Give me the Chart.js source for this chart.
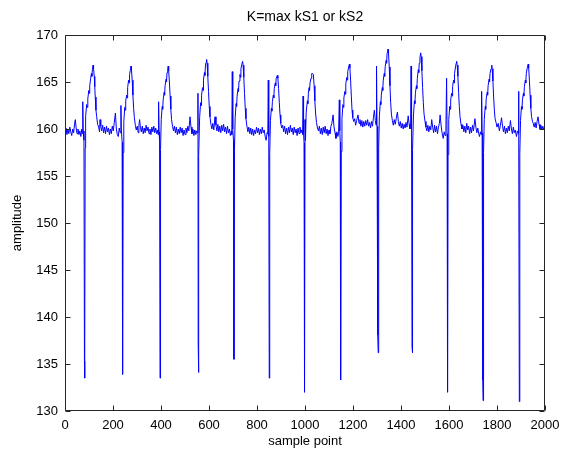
<!DOCTYPE html>
<html>
<head>
<meta charset="utf-8">
<script src="https://cdn.jsdelivr.net/npm/chart.js@4.4.1/dist/chart.umd.min.js"></script>
<style>
  html, body { margin: 0; padding: 0; background: #fff; }
</style>
</head>
<body>
<canvas id="chart" width="568" height="451"></canvas>
<script>
const titleText = "K=max kS1 or kS2";
const xLabel = "sample point";
const yLabel = "amplitude";
const xTicks = [0, 200, 400, 600, 800, 1000, 1200, 1400, 1600, 1800, 2000];
const yTicks = [130, 135, 140, 145, 150, 155, 160, 165, 170];

// [sample, amplitude], one beat per block
const lead = [[0,159.6],[4,160.1],[8,159.4],[12,160.0],[16,159.5],[20,160.2],[24,159.7],[28,159.3],[32,160.0],[36,159.6],[40,160.6],[43,161.0],[46,160.2],[50,159.5],[54,160.0],[58,159.4],[62,159.8],[66,159.2],[70,160.0]];
const beat01 = [[72,159.5],[74,162.9],[76,159.8],[79,158.8],[81,135.3],[82,133.5],[84,158.0],[86,161.3],[90,162.6],[93,162.3],[95,163.2],[99,164.1],[101,163.8],[103,164.6],[107,165.4],[110,165.9],[112,165.6],[114,166.3],[117,166.8],[119,166.4],[122,165.6],[124,164.5],[126,163.4],[129,162.0],[132,161.3],[136,160.5],[140,160.2],[144,159.7],[146,161.0],[149,160.3],[153,159.8],[157,160.4],[161,159.6],[165,160.2],[169,159.5],[173,160.3],[177,159.7],[181,160.1],[185,159.4],[189,160.0],[193,159.5],[197,160.3],[201,159.8],[205,160.6],[210,161.7],[214,160.0],[218,159.4],[222,159.2],[226,160.1]];
const beat02 = [[230,159.6],[233,162.5],[235,159.9],[238,158.6],[240,133.9],[242,157.5],[245,160.8],[249,162.3],[251,162.0],[253,163.0],[257,163.6],[259,163.3],[261,164.4],[265,165.2],[267,164.9],[269,165.8],[272,166.2],[275,166.7],[277,166.3],[280,165.2],[283,163.6],[286,162.2],[289,161.2],[293,160.4],[297,159.9],[301,160.3],[305,159.6],[308,160.4],[311,161.0],[314,160.2],[318,159.7],[322,160.3],[326,159.5],[330,160.1],[334,159.6],[338,160.4],[342,159.8],[346,160.2],[350,159.5],[354,160.0],[358,159.4],[362,160.2],[366,159.7],[370,160.3],[374,159.6],[378,160.1],[382,159.5],[386,159.9]];
const beat03 = [[388,159.4],[390,162.9],[392,159.7],[394,158.7],[396,133.5],[398,157.8],[401,161.0],[405,162.4],[407,162.1],[409,163.1],[413,163.9],[415,163.6],[417,164.6],[421,165.3],[423,165.0],[425,166.0],[428,166.4],[430,166.7],[432,166.2],[435,165.0],[438,163.5],[441,162.1],[444,161.0],[448,160.3],[452,159.8],[456,160.3],[460,159.6],[464,160.2],[468,159.4],[472,160.0],[476,159.5],[480,160.2],[484,159.6],[488,160.1],[492,159.3],[496,159.9],[500,159.4],[504,160.1],[508,159.6],[512,160.3],[516,159.8],[521,161.3],[525,160.2],[529,159.5],[533,160.0],[537,159.3],[541,159.9],[545,159.4],[549,159.8]];
const beat04 = [[552,159.6],[554,163.8],[555,137.0],[556,134.1],[558,157.2],[561,161.2],[565,162.8],[567,162.5],[569,163.6],[573,164.4],[575,164.1],[577,165.2],[581,166.0],[583,165.7],[585,166.7],[588,167.1],[590,167.4],[592,167.0],[595,165.6],[598,164.0],[601,162.4],[604,161.3],[608,160.5],[612,160.0],[616,160.6],[620,159.9],[625,161.3],[629,160.4],[633,159.8],[637,160.5],[641,159.7],[645,160.3],[649,159.6],[653,160.4],[657,159.8],[661,160.5],[665,159.7],[669,160.2],[673,159.5],[677,160.3],[681,159.6],[685,160.0],[689,159.3],[693,159.8]];
const beat05 = [[695,159.4],[697,166.1],[699,160.0],[702,158.8],[704,135.5],[706,157.6],[709,161.2],[713,162.7],[715,162.4],[717,163.5],[721,164.3],[723,164.0],[725,165.1],[729,165.8],[731,165.5],[733,166.4],[737,166.9],[740,167.2],[742,166.8],[745,165.5],[748,163.8],[751,162.2],[754,161.1],[758,160.3],[762,159.7],[766,160.2],[770,159.5],[774,160.1],[778,159.4],[782,160.0],[786,159.3],[790,159.9],[794,159.5],[798,160.2],[802,159.6],[806,160.1],[810,159.4],[814,160.0],[818,159.5],[822,160.2],[826,159.6],[830,159.9],[834,159.2],[838,158.8],[842,159.6]];
const beat06 = [[845,159.5],[847,165.2],[849,159.2],[851,133.5],[853,157.4],[856,160.9],[860,162.2],[862,161.9],[864,162.9],[868,163.6],[870,163.3],[872,164.3],[876,164.9],[878,164.6],[880,165.4],[885,165.7],[887,165.4],[890,164.3],[893,162.8],[896,161.5],[899,160.6],[903,160.1],[907,160.4],[911,159.7],[915,160.3],[919,159.5],[923,160.1],[927,159.4],[931,160.2],[935,159.6],[939,160.4],[943,159.7],[947,160.1],[951,159.4],[955,160.2],[959,159.6],[963,160.0],[967,159.3],[971,160.1],[975,159.5],[979,160.2],[983,159.6],[987,159.9]];
const beat07 = [[990,159.4],[992,163.5],[994,159.6],[996,158.5],[998,132.0],[1000,161.0],[1002,158.8],[1005,161.8],[1010,163.0],[1012,162.7],[1014,163.8],[1017,164.4],[1019,164.1],[1021,164.9],[1025,165.4],[1028,165.9],[1032,165.9],[1035,165.8],[1038,164.6],[1041,163.0],[1044,161.7],[1048,160.7],[1052,160.1],[1056,159.8],[1060,160.3],[1064,159.5],[1068,160.1],[1072,159.4],[1076,160.2],[1080,159.6],[1084,160.3],[1088,159.5],[1092,160.0],[1096,159.3],[1100,159.9],[1104,159.5],[1108,160.3],[1112,160.6],[1117,161.5],[1121,160.2],[1125,159.6],[1129,159.0],[1133,159.7],[1137,159.2],[1140,159.6]];
const beat08 = [[1143,163.1],[1145,159.8],[1147,158.6],[1148,134.1],[1149,133.3],[1151,157.6],[1154,161.1],[1158,162.6],[1160,162.3],[1162,163.3],[1166,164.0],[1168,163.7],[1170,164.8],[1174,165.5],[1176,165.2],[1178,166.1],[1182,166.6],[1185,166.9],[1187,166.5],[1190,165.2],[1193,163.5],[1196,162.0],[1199,161.2],[1203,160.8],[1207,161.1],[1211,160.4],[1215,160.9],[1221,161.5],[1225,160.6],[1229,161.0],[1233,160.3],[1237,160.9],[1241,160.2],[1245,160.8],[1249,160.3],[1253,160.9],[1257,160.4],[1261,161.0],[1265,160.3],[1269,160.7],[1273,160.1],[1277,160.8],[1281,160.3],[1285,161.2],[1289,162.0],[1293,160.9],[1296,160.4]];
const beat09 = [[1298,166.7],[1300,160.3],[1302,159.2],[1304,138.1],[1305,136.2],[1307,158.0],[1310,161.4],[1314,162.9],[1316,162.6],[1318,163.6],[1322,164.4],[1324,164.1],[1326,165.2],[1330,165.9],[1332,165.6],[1334,166.6],[1338,167.3],[1340,167.0],[1342,168.0],[1346,168.5],[1348,168.1],[1351,166.6],[1354,164.6],[1357,162.8],[1360,161.6],[1364,160.9],[1368,160.4],[1372,161.0],[1376,160.5],[1380,161.1],[1385,161.8],[1389,160.8],[1393,160.3],[1397,160.8],[1401,160.1],[1405,160.6],[1409,160.0],[1413,160.5],[1417,160.1],[1421,160.7],[1425,160.2],[1430,161.4],[1434,160.5],[1437,160.0]];
const beat10 = [[1440,160.2],[1442,166.7],[1444,160.0],[1446,136.8],[1447,136.2],[1449,157.8],[1452,161.5],[1456,163.0],[1458,162.7],[1460,163.8],[1464,164.6],[1466,164.3],[1468,165.4],[1472,166.3],[1474,166.0],[1476,167.0],[1479,167.6],[1482,168.1],[1484,167.7],[1487,166.2],[1490,164.4],[1493,162.8],[1496,161.6],[1500,160.8],[1504,160.2],[1508,159.8],[1512,160.4],[1516,159.7],[1520,160.3],[1524,159.9],[1528,161.0],[1532,160.2],[1536,159.6],[1540,160.4],[1544,159.7],[1548,160.3],[1552,159.5],[1556,160.2],[1560,160.6],[1563,161.5],[1567,160.4],[1571,159.6],[1576,159.0],[1580,159.7],[1584,159.3],[1587,159.8]];
const beat11 = [[1590,165.4],[1592,159.5],[1594,132.0],[1596,157.3],[1599,161.0],[1603,162.4],[1605,162.1],[1607,163.1],[1611,163.8],[1613,163.5],[1615,164.5],[1619,165.2],[1621,164.9],[1623,165.9],[1627,166.6],[1630,167.0],[1632,167.2],[1634,166.8],[1637,165.6],[1640,163.9],[1643,162.4],[1646,161.3],[1650,160.5],[1654,160.0],[1658,160.4],[1662,159.7],[1666,160.3],[1670,159.6],[1674,160.6],[1678,159.9],[1682,160.3],[1686,159.5],[1690,160.2],[1694,159.6],[1698,160.4],[1702,159.8],[1708,161.1],[1712,160.2],[1716,159.6],[1720,160.1],[1724,159.5],[1727,159.2],[1731,159.7],[1734,159.4]];
const beat12 = [[1736,164.0],[1738,159.6],[1740,158.8],[1741,133.3],[1742,131.1],[1744,157.5],[1747,161.0],[1751,162.4],[1753,162.1],[1755,163.2],[1759,163.9],[1761,163.6],[1763,164.6],[1767,165.3],[1769,165.0],[1771,165.9],[1775,166.4],[1778,166.8],[1780,166.4],[1783,165.1],[1786,163.4],[1789,162.0],[1792,161.1],[1796,160.7],[1800,160.2],[1805,160.6],[1810,159.8],[1814,160.4],[1819,161.2],[1823,160.3],[1827,159.7],[1831,160.3],[1835,159.5],[1839,160.1],[1843,159.6],[1847,160.3],[1851,159.8],[1856,160.9],[1860,160.0],[1864,159.5],[1868,160.2],[1872,159.6],[1876,159.9],[1881,159.2],[1885,159.8],[1889,159.5]];
const beat13 = [[1890,164.0],[1891,159.5],[1893,131.0],[1895,157.4],[1898,160.9],[1902,162.4],[1904,162.1],[1906,163.1],[1910,163.8],[1912,163.5],[1914,164.5],[1918,165.2],[1920,164.9],[1922,165.9],[1926,166.5],[1930,166.9],[1932,166.5],[1935,165.2],[1938,163.6],[1941,162.2],[1944,161.3],[1948,160.8],[1951,160.6],[1955,160.2],[1959,160.7],[1963,160.1],[1967,160.8],[1971,161.3],[1975,160.5],[1979,160.0],[1983,160.4],[1987,159.9],[1991,160.3],[1995,159.9],[1999,160.2]];

const trace = [].concat(lead, beat01, beat02, beat03, beat04, beat05, beat06, beat07,
  beat08, beat09, beat10, beat11, beat12, beat13).map(p => ({x: p[0], y: p[1]}));

const fontFamily = "'Liberation Sans', Arial, Helvetica, sans-serif";
const axisColor = "#262626";

// MATLAB style box with inward tick marks on all four sides
const boxTicks = {
  id: "boxTicks",
  afterDraw(chart) {
    const ctx = chart.ctx;
    const a = chart.chartArea;
    const x = chart.scales.x, y = chart.scales.y;
    const len = 5;
    ctx.save();
    ctx.strokeStyle = axisColor;
    ctx.lineWidth = 1;
    ctx.beginPath();
    const L = Math.round(a.left) + 0.5, R = Math.round(a.right) - 0.5;
    const T = Math.round(a.top) + 0.5, B = Math.round(a.bottom) - 0.5;
    ctx.rect(L, T, R - L, B - T);
    xTicks.forEach(function (v) {
      const px = Math.round(x.getPixelForValue(v)) + 0.5;
      ctx.moveTo(px, B); ctx.lineTo(px, B - len);
      ctx.moveTo(px, T); ctx.lineTo(px, T + len);
    });
    yTicks.forEach(function (v) {
      const py = Math.round(y.getPixelForValue(v)) + 0.5;
      ctx.moveTo(L, py); ctx.lineTo(L + len, py);
      ctx.moveTo(R, py); ctx.lineTo(R - len, py);
    });
    ctx.stroke();
    ctx.restore();
  }
};

const ctx = document.getElementById("chart").getContext("2d");
new Chart(ctx, {
  type: "scatter",
  data: {
    datasets: [{
      data: trace,
      showLine: true,
      borderColor: "#0000ff",
      backgroundColor: "#0000ff",
      borderWidth: 1,
      pointRadius: 0,
      tension: 0
    }]
  },
  options: {
    responsive: false,
    animation: false,
    layout: { padding: { left: 0, right: 23, top: 0, bottom: 0 } },
    plugins: {
      legend: { display: false },
      tooltip: { enabled: false },
      title: {
        display: true,
        text: titleText,
        fullSize: false,
        color: "#000",
        font: { family: fontFamily, size: 14, weight: "normal" },
        padding: { top: 9, bottom: 9.2 }
      }
    },
    scales: {
      x: {
        type: "linear",
        min: 0,
        max: 2000,
        afterBuildTicks: function (scale) { scale.ticks = xTicks.map(v => ({ value: v })); },
        afterFit: function (scale) { scale.height = 40; },
        grid: { display: false, drawTicks: false },
        border: { display: false },
        ticks: { padding: 7, color: "#000", maxRotation: 0, autoSkip: false,
                 callback: v => String(v),
                 font: { family: fontFamily, size: 13 } },
        title: { display: true, text: xLabel, color: "#000",
                 font: { family: fontFamily, size: 13 }, padding: { top: 0, bottom: 2 } }
      },
      y: {
        type: "linear",
        min: 130,
        max: 170,
        afterBuildTicks: function (scale) { scale.ticks = yTicks.map(v => ({ value: v })); },
        afterFit: function (scale) { scale.width = 65; },
        grid: { display: false, drawTicks: false },
        border: { display: false },
        ticks: { padding: 7, color: "#000", autoSkip: false,
                 callback: v => String(v),
                 font: { family: fontFamily, size: 13 } },
        title: { display: true, text: yLabel, color: "#000",
                 font: { family: fontFamily, size: 13 }, padding: { top: 10, bottom: 0 } }
      }
    }
  },
  plugins: [boxTicks]
});
</script>
</body>
</html>
